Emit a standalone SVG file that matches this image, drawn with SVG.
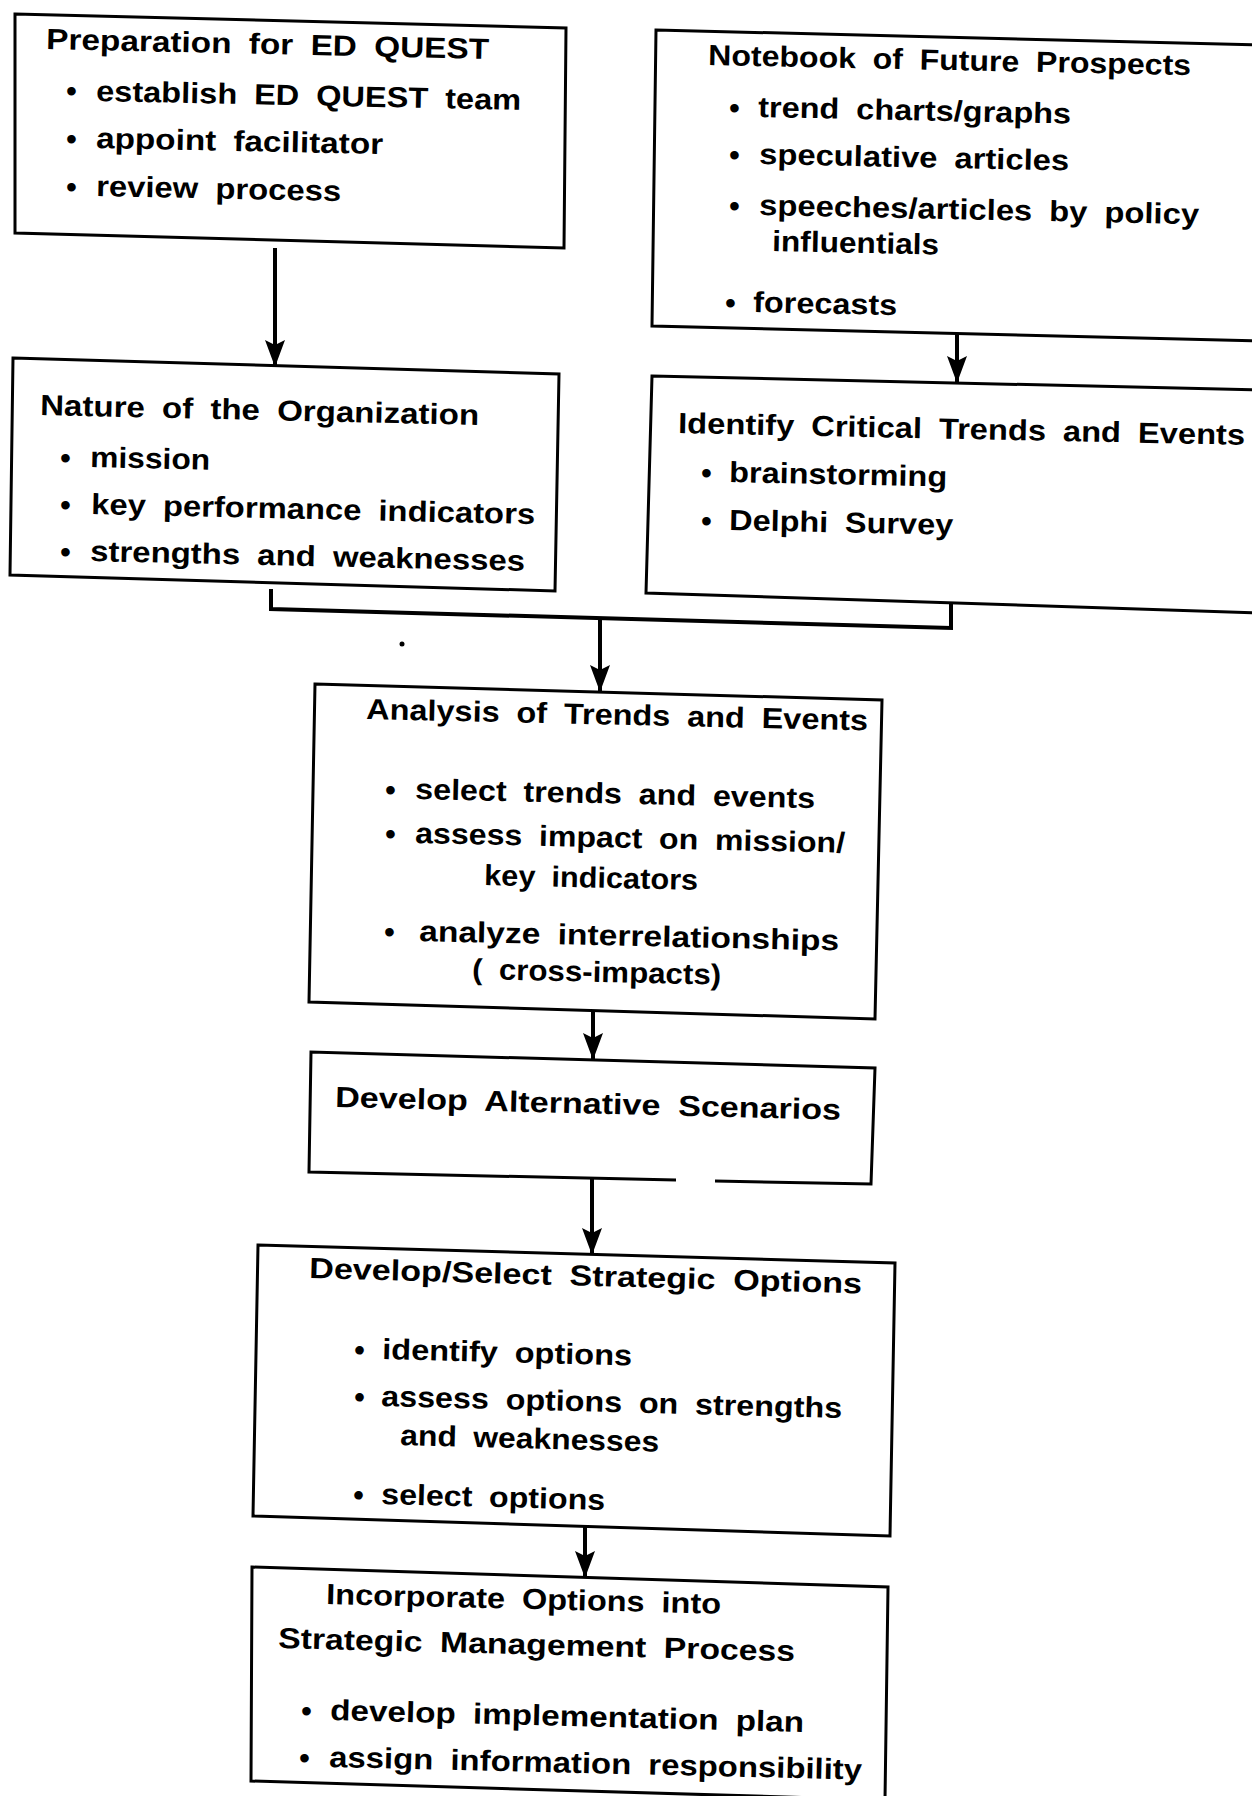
<svg xmlns="http://www.w3.org/2000/svg" width="1252" height="1796" viewBox="0 0 1252 1796">
<defs>
<style>
.box{fill:none;stroke:#000;stroke-width:3;stroke-linejoin:miter}
.t{font-family:"Liberation Sans",Arial,Helvetica,sans-serif;font-weight:bold;font-size:29px;fill:#000;word-spacing:7px}
.b{font-family:"Liberation Sans",Arial,Helvetica,sans-serif;font-weight:bold;font-size:30px;fill:#000}
.c{fill:none;stroke:#000;stroke-width:4}
</style>
<marker id="ah" markerUnits="userSpaceOnUse" markerWidth="27" markerHeight="20" viewBox="0 0 27 20" refX="26" refY="10" orient="auto">
<path d="M0,0 L27,10 L0,20 L5,10 z" fill="#000"/>
</marker>
</defs>
<rect width="1252" height="1796" fill="#fff"/>

<g id="n-preparation">
<polygon class="box" points="15,14 566,28 564,248 15,233"/>
<text class="t" x="46" y="49" textLength="443" lengthAdjust="spacingAndGlyphs" transform="rotate(1.3 46 49)">Preparation for ED QUEST</text>
<text class="b" x="66" y="101" transform="rotate(1.3 66 101)">•</text>
<text class="t" x="96" y="101" textLength="425" lengthAdjust="spacingAndGlyphs" transform="rotate(1.2 96 101)">establish ED QUEST team</text>
<text class="b" x="66" y="149" transform="rotate(1.3 66 149)">•</text>
<text class="t" x="96" y="148" textLength="287" lengthAdjust="spacingAndGlyphs" transform="rotate(1.2 96 148)">appoint facilitator</text>
<text class="b" x="66" y="197" transform="rotate(1.3 66 197)">•</text>
<text class="t" x="96" y="196" textLength="245" lengthAdjust="spacingAndGlyphs" transform="rotate(1.2 96 196)">review process</text>
</g>

<g id="n-notebook">
<polygon class="box" points="656,30 1262,45 1262,341 652,326"/>
<text class="t" x="708" y="65" textLength="483" lengthAdjust="spacingAndGlyphs" transform="rotate(1.2 708 65)">Notebook of Future Prospects</text>
<text class="b" x="729" y="118" transform="rotate(1.2 729 118)">•</text>
<text class="t" x="758" y="117" textLength="313" lengthAdjust="spacingAndGlyphs" transform="rotate(1.2 758 117)">trend charts/graphs</text>
<text class="b" x="729" y="165" transform="rotate(1.2 729 165)">•</text>
<text class="t" x="759" y="164" textLength="310" lengthAdjust="spacingAndGlyphs" transform="rotate(1.2 759 164)">speculative articles</text>
<text class="b" x="729" y="216" transform="rotate(1.2 729 216)">•</text>
<text class="t" x="759" y="215" textLength="440" lengthAdjust="spacingAndGlyphs" transform="rotate(1.2 759 215)">speeches/articles by policy</text>
<text class="t" x="772" y="251" textLength="167" lengthAdjust="spacingAndGlyphs" transform="rotate(1.2 772 251)">influentials</text>
<text class="b" x="725" y="313" transform="rotate(1.2 725 313)">•</text>
<text class="t" x="753" y="312" textLength="144" lengthAdjust="spacingAndGlyphs" transform="rotate(1.2 753 312)">forecasts</text>
</g>

<g id="n-nature">
<polygon class="box" points="13,358 559,374 555,591 10,575"/>
<text class="t" x="40" y="415" textLength="439" lengthAdjust="spacingAndGlyphs" transform="rotate(1.3 40 415)">Nature of the Organization</text>
<text class="b" x="60" y="468" transform="rotate(1.3 60 468)">•</text>
<text class="t" x="90" y="467" textLength="120" lengthAdjust="spacingAndGlyphs" transform="rotate(1.3 90 467)">mission</text>
<text class="b" x="60" y="515" transform="rotate(1.3 60 515)">•</text>
<text class="t" x="91" y="514" textLength="444" lengthAdjust="spacingAndGlyphs" transform="rotate(1.3 91 514)">key performance indicators</text>
<text class="b" x="60" y="562" transform="rotate(1.3 60 562)">•</text>
<text class="t" x="90" y="561" textLength="435" lengthAdjust="spacingAndGlyphs" transform="rotate(1.3 90 561)">strengths and weaknesses</text>
</g>

<g id="n-identify">
<polygon class="box" points="652,376 1262,390 1262,613 646,593"/>
<text class="t" x="678" y="433" textLength="567" lengthAdjust="spacingAndGlyphs" transform="rotate(1.2 678 433)">Identify Critical Trends and Events</text>
<text class="b" x="701" y="483" transform="rotate(1.2 701 483)">•</text>
<text class="t" x="729" y="482" textLength="218" lengthAdjust="spacingAndGlyphs" transform="rotate(1.2 729 482)">brainstorming</text>
<text class="b" x="701" y="531" transform="rotate(1.2 701 531)">•</text>
<text class="t" x="729" y="530" textLength="224" lengthAdjust="spacingAndGlyphs" transform="rotate(1.2 729 530)">Delphi Survey</text>
</g>

<g id="n-analysis">
<polygon class="box" points="315,684 882,700 875,1019 309,1002"/>
<text class="t" x="366" y="719" textLength="502" lengthAdjust="spacingAndGlyphs" transform="rotate(1.3 366 719)">Analysis of Trends and Events</text>
<text class="b" x="385" y="800" transform="rotate(1.3 385 800)">•</text>
<text class="t" x="415" y="799" textLength="400" lengthAdjust="spacingAndGlyphs" transform="rotate(1.3 415 799)">select trends and events</text>
<text class="b" x="385" y="844" transform="rotate(1.3 385 844)">•</text>
<text class="t" x="415" y="843" textLength="430" lengthAdjust="spacingAndGlyphs" transform="rotate(1.3 415 843)">assess impact on mission/</text>
<text class="t" x="484" y="885" textLength="214" lengthAdjust="spacingAndGlyphs" transform="rotate(1.3 484 885)">key indicators</text>
<text class="b" x="384" y="942" transform="rotate(1.3 384 942)">•</text>
<text class="t" x="419" y="941" textLength="420" lengthAdjust="spacingAndGlyphs" transform="rotate(1.3 419 941)">analyze interrelationships</text>
<text class="t" x="472" y="979" textLength="249" lengthAdjust="spacingAndGlyphs" transform="rotate(1.3 472 979)">( cross-impacts)</text>
</g>

<g id="n-scenarios">
<path class="box" d="M676,1180 L309,1172 L311,1052 L875,1068 L871,1184 L715,1181"/>
<text class="t" x="335" y="1107" textLength="506" lengthAdjust="spacingAndGlyphs" transform="rotate(1.45 335 1107)">Develop Alternative Scenarios</text>
</g>

<g id="n-options">
<polygon class="box" points="258,1245 895,1263 890,1536 253,1516"/>
<text class="t" x="309" y="1278" textLength="553" lengthAdjust="spacingAndGlyphs" transform="rotate(1.6 309 1278)">Develop/Select Strategic Options</text>
<text class="b" x="354" y="1360" transform="rotate(1.5 354 1360)">•</text>
<text class="t" x="382" y="1359" textLength="250" lengthAdjust="spacingAndGlyphs" transform="rotate(1.5 382 1359)">identify options</text>
<text class="b" x="354" y="1407" transform="rotate(1.5 354 1407)">•</text>
<text class="t" x="381" y="1406" textLength="461" lengthAdjust="spacingAndGlyphs" transform="rotate(1.5 381 1406)">assess options on strengths</text>
<text class="t" x="400" y="1445" textLength="259" lengthAdjust="spacingAndGlyphs" transform="rotate(1.5 400 1445)">and weaknesses</text>
<text class="b" x="353" y="1505" transform="rotate(1.5 353 1505)">•</text>
<text class="t" x="381" y="1504" textLength="224" lengthAdjust="spacingAndGlyphs" transform="rotate(1.5 381 1504)">select options</text>
</g>

<g id="n-incorporate">
<polygon class="box" points="252,1567 888,1587 885,1800 251,1781"/>
<text class="t" x="326" y="1604" textLength="395" lengthAdjust="spacingAndGlyphs" transform="rotate(1.4 326 1604)">Incorporate Options into</text>
<text class="t" x="278" y="1648" textLength="517" lengthAdjust="spacingAndGlyphs" transform="rotate(1.45 278 1648)">Strategic Management Process</text>
<text class="b" x="301" y="1721" transform="rotate(1.45 301 1721)">•</text>
<text class="t" x="330" y="1720" textLength="474" lengthAdjust="spacingAndGlyphs" transform="rotate(1.45 330 1720)">develop implementation plan</text>
<text class="b" x="299" y="1768" transform="rotate(1.35 299 1768)">•</text>
<text class="t" x="329" y="1767" textLength="533" lengthAdjust="spacingAndGlyphs" transform="rotate(1.35 329 1767)">assign information responsibility</text>
</g>

<g id="connectors">
<line class="c" x1="275" y1="248" x2="275" y2="366" marker-end="url(#ah)"/>
<line class="c" x1="957" y1="333" x2="957" y2="382" marker-end="url(#ah)"/>
<polyline class="c" points="271,589 271,609 951,628 951,603"/>
<line class="c" x1="600" y1="620" x2="600" y2="691" marker-end="url(#ah)"/>
<line class="c" x1="593" y1="1011" x2="593" y2="1059" marker-end="url(#ah)"/>
<line class="c" x1="592" y1="1179" x2="592" y2="1254" marker-end="url(#ah)"/>
<line class="c" x1="585" y1="1526" x2="585" y2="1577" marker-end="url(#ah)"/>
</g>
<circle cx="402" cy="644" r="2.5" fill="#000"/>
</svg>
